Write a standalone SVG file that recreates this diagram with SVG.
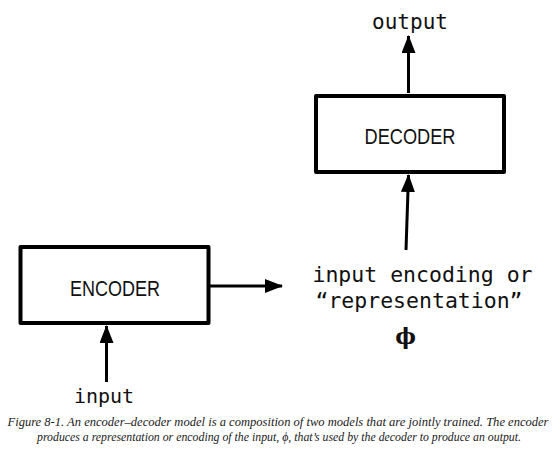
<svg xmlns="http://www.w3.org/2000/svg" width="560" height="455" viewBox="0 0 560 455">
<style>
.box{fill:#fff;stroke:#000;stroke-width:4;stroke-linejoin:round}
.lbl{font-family:"Liberation Sans",Arial,sans-serif;font-size:22px;fill:#111;text-anchor:middle}
.mono{font-family:"DejaVu Sans Mono","Liberation Mono",monospace;fill:#111;text-anchor:middle}
.edge{stroke:#000;stroke-width:3;fill:none}
.cap{font-family:"Liberation Serif","Times New Roman",serif;font-style:italic;font-size:12.5px;fill:#1a1a1a;text-anchor:middle}
</style>
<defs>
<marker id="ah" markerUnits="userSpaceOnUse" markerWidth="18" markerHeight="14" viewBox="0 0 18 14" refX="17" refY="7" orient="auto">
<path d="M0,0 L18,7 L0,14 Z" fill="#000"/>
</marker>
</defs>
<rect width="560" height="455" fill="#fff"/>
<g id="encoder">
<rect class="box" x="20.5" y="247" width="188" height="76"/>
<text class="lbl" x="115" y="295.5" textLength="90" lengthAdjust="spacingAndGlyphs">ENCODER</text>
</g>
<g id="decoder">
<rect class="box" x="316" y="96" width="188" height="76"/>
<text class="lbl" x="410" y="144" textLength="91" lengthAdjust="spacingAndGlyphs">DECODER</text>
</g>
<g id="input">
<text class="mono" x="104" y="403" font-size="20">input</text>
</g>
<g id="output">
<text class="mono" x="410" y="29" font-size="21">output</text>
</g>
<g id="representation">
<text class="mono" x="422.5" y="282" font-size="21.5">input encoding or</text>
<text class="mono" x="419" y="308" font-size="21.5">“representation”</text>
<text x="405.5" y="344" font-family="'DejaVu Serif','Liberation Serif',serif" font-weight="bold" font-size="22" text-anchor="middle" fill="#111">ϕ</text>
</g>
<g id="connectors">
<line class="edge" x1="106.5" y1="382" x2="106.5" y2="326" marker-end="url(#ah)"/>
<line class="edge" x1="210" y1="286" x2="282" y2="286" marker-end="url(#ah)"/>
<line class="edge" x1="406" y1="250" x2="408.5" y2="175" marker-end="url(#ah)"/>
<line class="edge" x1="408.5" y1="93" x2="408.5" y2="36" marker-end="url(#ah)"/>
</g>
<g id="caption">
<text class="cap" x="278" y="426" textLength="541" lengthAdjust="spacingAndGlyphs">Figure 8-1. An encoder–decoder model is a composition of two models that are jointly trained. The encoder</text>
<text class="cap" x="279" y="441" textLength="484" lengthAdjust="spacingAndGlyphs">produces a representation or encoding of the input, ϕ, that’s used by the decoder to produce an output.</text>
</g>
</svg>
